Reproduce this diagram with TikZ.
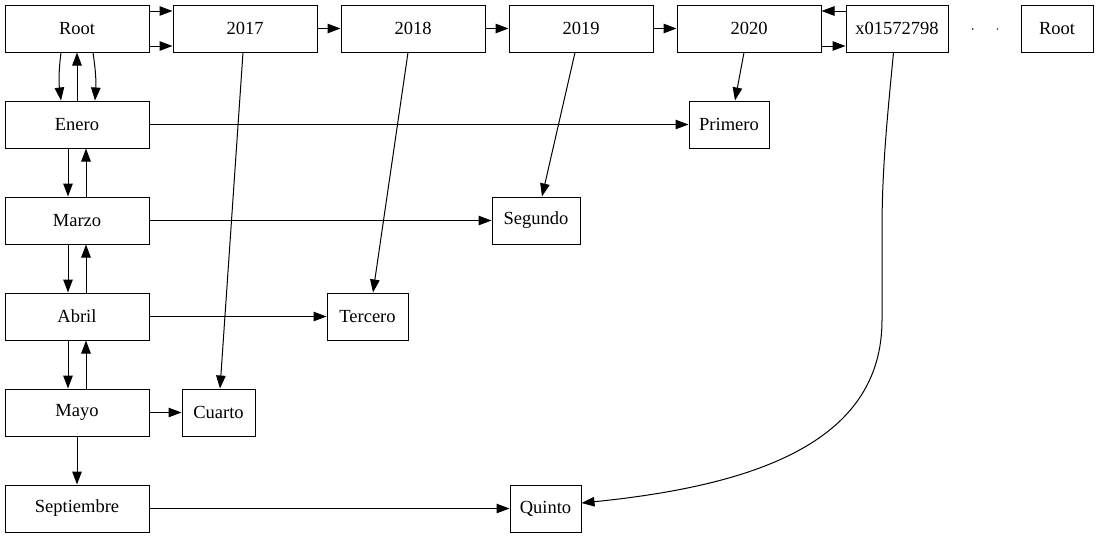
\documentclass[tikz,border=0pt]{standalone}
\usepackage{fontspec}
\setmainfont{Liberation Serif}
\usetikzlibrary{arrows.meta}
\begin{document}
\begin{tikzpicture}[x=1pt,y=-1pt,
  box/.style={draw,line width=1pt,rectangle,inner sep=0pt,minimum height=47pt,font=\fontsize{18.5}{20}\selectfont},
  wide/.style={box,minimum width=144pt},
  edge/.style={line width=1pt,-{Triangle[length=13pt,width=9.5pt]}},
  dotpt/.style={circle,fill,inner sep=0pt,minimum size=1.6pt}]
\useasboundingbox (0,0) rectangle (1099,539);
% top row
\node[wide] (root) at (77,28.5) {Root};
\node[wide] (y2017) at (245,28.5) {2017};
\node[wide] (y2018) at (413,28.5) {2018};
\node[wide] (y2019) at (581,28.5) {2019};
\node[wide] (y2020) at (749,28.5) {2020};
\node[box,minimum width=102pt] (x0) at (897,28.5) {x01572798};
\node[dotpt] (d1) at (972.7,29) {};
\node[dotpt] (d2) at (997.3,29) {};
\node[box,minimum width=72pt] (root2) at (1057,28.5) {Root};
% left column
\node[wide] (enero) at (77,124.5) {Enero};
\node[wide] (marzo) at (77,220.5) {Marzo};
\node[wide] (abril) at (77,316.5) {Abril};
\node[wide] (mayo) at (77,412.5) {Mayo};
\node[wide] (sept) at (77,508.5) {Septiembre};
% others
\node[box,minimum width=80pt] (primero) at (729,124.5) {Primero};
\node[box,minimum width=88pt] (segundo) at (536,220.5) {Segundo};
\node[box,minimum width=81pt] (tercero) at (367.5,316.5) {Tercero};
\node[box,minimum width=73pt] (cuarto) at (218.5,412.5) {Cuarto};
\node[box,minimum width=71pt] (quinto) at (545.5,508.5) {Quinto};
% top row edges
\draw[edge] ([yshift=17.5pt]root.east) -- ([yshift=17.5pt]y2017.west);
\draw[edge] ([yshift=-17.5pt]root.east) -- ([yshift=-17.5pt]y2017.west);
\draw[edge] (y2017) -- (y2018);
\draw[edge] (y2018) -- (y2019);
\draw[edge] (y2019) -- (y2020);
\draw[edge] ([yshift=-17.5pt]y2020.east) -- ([yshift=-17.5pt]x0.west);
\draw[edge] ([yshift=17.5pt]x0.west) -- ([yshift=17.5pt]y2020.east);
% root <-> enero
\draw[edge] ([xshift=-16pt]root.south) to[bend right=7] ([xshift=-16pt]enero.north);
\draw[edge] (enero.north) -- (root.south);
\draw[edge] ([xshift=16pt]root.south) to[bend left=6] ([xshift=18pt]enero.north);
% column
\draw[edge] ([xshift=-9pt]enero.south) -- ([xshift=-9pt]marzo.north);
\draw[edge] ([xshift=9pt]marzo.north) -- ([xshift=9pt]enero.south);
\draw[edge] ([xshift=-9pt]marzo.south) -- ([xshift=-9pt]abril.north);
\draw[edge] ([xshift=9pt]abril.north) -- ([xshift=9pt]marzo.south);
\draw[edge] ([xshift=-9pt]abril.south) -- ([xshift=-9pt]mayo.north);
\draw[edge] ([xshift=9pt]mayo.north) -- ([xshift=9pt]abril.south);
\draw[edge] (mayo.south) -- (sept.north);
% horizontals
\draw[edge] (enero.east) -- (primero.west);
\draw[edge] (marzo.east) -- (segundo.west);
\draw[edge] (abril.east) -- (tercero.west);
\draw[edge] (mayo.east) -- (cuarto.west);
\draw[edge] (sept.east) -- (quinto.west);
% years down
\draw[edge] ([xshift=-2pt]y2017.south) -- ([xshift=1.5pt]cuarto.north);
\draw[edge] ([xshift=-5pt]y2018.south) -- ([xshift=5.5pt]tercero.north);
\draw[edge] ([xshift=-6pt]y2019.south) -- ([xshift=6pt]segundo.north);
\draw[edge] ([xshift=-5pt]y2020.south) -- ([xshift=6pt]primero.north);
% x0 -> quinto
\draw[edge] ([xshift=-3.5pt]x0.south) .. controls (887,120) and (882,170) .. (882,230)
  -- (882,320) .. controls (882,440) and (760,485) .. ([yshift=5.5pt]quinto.east);
\end{tikzpicture}
\end{document}
